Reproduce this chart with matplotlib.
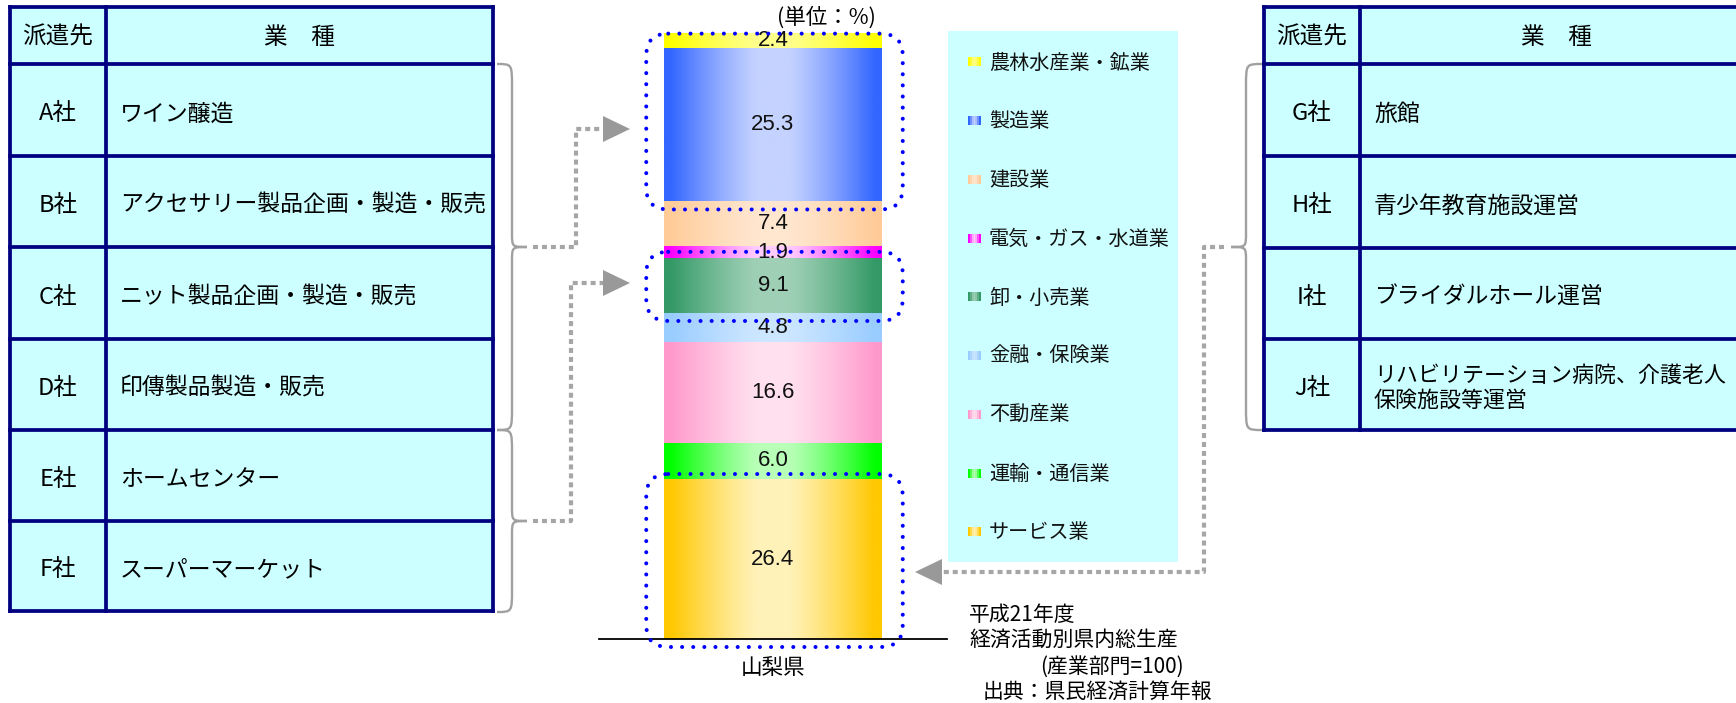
import numpy as np
import matplotlib
matplotlib.use('Agg')
import matplotlib.pyplot as plt
from matplotlib.patches import Rectangle, FancyBboxPatch, Polygon, PathPatch
from matplotlib.path import Path
from matplotlib.colors import to_rgb

plt.rcParams['font.family'] = ['Noto Sans CJK JP', 'DejaVu Sans']

# ---------------- data ----------------
industries = ['サービス業', '運輸・通信業', '不動産業', '金融・保険業', '卸・小売業',
              '電気・ガス・水道業', '建設業', '製造業', '農林水産業・鉱業']
shares = [26.4, 6.0, 16.6, 4.8, 9.1, 1.9, 7.4, 25.3, 2.4]
edge_colors = ['#FFC800', '#00FF00', '#FF99CC', '#99CCFF', '#339966',
               '#FF00FF', '#FFCC99', '#3366FF', '#FFFF00']
center_colors = ['#FFF2B8', '#B8FFB8', '#FFE0EE', '#CCE6FF', '#9FD0B6',
                 '#FFCCFF', '#FFE6CF', '#C4D2FF', '#FFFF8C']
region = ['山梨県']

header = ['派遣先', '業　種']
left_companies = ['A社', 'B社', 'C社', 'D社', 'E社', 'F社']
left_business = ['ワイン醸造', 'アクセサリー製品企画・製造・販売', 'ニット製品企画・製造・販売',
                 '印傳製品製造・販売', 'ホームセンター', 'スーパーマーケット']
right_companies = ['G社', 'H社', 'I社', 'J社']
right_business = ['旅館', '青少年教育施設運営', 'ブライダルホール運営',
                  'リハビリテーション病院、介護老人\n保険施設等運営']

unit_label = '(単位：%)'
note_lines = ['平成21年度', '経済活動別県内総生産', '(産業部門=100)', '出典：県民経済計算年報']

# ---------------- figure ----------------
W, H = 1736, 703
fig = plt.figure(figsize=(W / 100, H / 100), dpi=100)
fig.patch.set_facecolor('white')


def gradient(edge, center, n=64):
    e = np.array(to_rgb(edge))
    c = np.array(to_rgb(center))
    t = np.abs(np.linspace(-1, 1, n))
    w = np.clip((t - 0.15) / 0.8, 0, 1) ** 1.2
    img = c[None, :] * (1 - w[:, None]) + e[None, :] * w[:, None]
    return img[None, :, :]


# bar axes
bx = fig.add_axes([599 / W, (H - 639) / H, 348 / W, 606 / H], zorder=1)
bx.patch.set_alpha(0)
bottoms = np.concatenate([[0], np.cumsum(shares)[:-1]])
for i, (v, b) in enumerate(zip(shares, bottoms)):
    cont = bx.bar(0, v, width=1.0, bottom=b, color=edge_colors[i], linewidth=0, zorder=1)
    p = cont.patches[0]
    bx.imshow(gradient(edge_colors[i], center_colors[i]),
              extent=(p.get_x(), p.get_x() + p.get_width(), p.get_y(), p.get_y() + p.get_height()),
              aspect='auto', interpolation='bilinear', zorder=2)
    labs = bx.bar_label(cont, labels=[f'{v:.1f}'], label_type='center',
                        fontsize=16, family=['Liberation Sans'], color='#111111')
    for t in labs:
        t.set_zorder(4)
bx.set_xlim(-0.8, 0.8)
bx.set_ylim(0, 100)
for s in ['top', 'left', 'right']:
    bx.spines[s].set_visible(False)
bx.spines['bottom'].set_linewidth(1.3)
bx.spines['bottom'].set_color('black')
bx.set_yticks([])
bx.set_xticks([0])
bx.set_xticklabels(region, fontsize=15.5)
bx.tick_params(axis='x', length=0, pad=13)

# overlay axes in pixel coordinates
ov = fig.add_axes([0, 0, 1, 1], zorder=3)
ov.set_xlim(0, W)
ov.set_ylim(H, 0)
ov.axis('off')
ov.patch.set_alpha(0)

NAVY = '#000080'
CYAN = '#CCFFFF'


def draw_table(x0, xc, x1, ys, companies, business):
    ov.add_patch(Rectangle((x0, ys[0]), x1 - x0, ys[-1] - ys[0], fc=CYAN, ec='none', zorder=1))
    for y in ys:
        ov.plot([x0, x1], [y, y], color=NAVY, lw=2.7, solid_capstyle='projecting', zorder=2)
    for x in (x0, xc, x1):
        ov.plot([x, x], [ys[0], ys[-1]], color=NAVY, lw=2.7, solid_capstyle='projecting', zorder=2)
    ov.text((x0 + xc) / 2, (ys[0] + ys[1]) / 2 + 2, header[0], fontsize=17, ha='center', va='center', zorder=3)
    ov.text((xc + x1) / 2, (ys[0] + ys[1]) / 2 + 2, header[1], fontsize=17, ha='center', va='center', zorder=3)
    for i, (c, bz) in enumerate(zip(companies, business)):
        yc = (ys[i + 1] + ys[i + 2]) / 2 + 4
        ov.text((x0 + xc) / 2, yc, c, fontsize=17, ha='center', va='center', zorder=3)
        fs = 16.5 if '\n' not in bz else 15.8
        ov.text(xc + 14, yc, bz, fontsize=fs, ha='left', va='center', zorder=3, linespacing=1.2)


draw_table(10, 106, 493, [7, 64, 156, 247, 339, 430, 521, 611], left_companies, left_business)
draw_table(1264, 1360, 1752, [7, 64, 156, 248, 339, 430], right_companies, right_business)

GRAY = '#A0A0A0'


def brace(xe, xm, xt, y0, y1, r1=23, r2=14):
    yc = (y0 + y1) / 2
    verts = [(xe, y0), (xm, y0), (xm, y0), (xm, y0 + r1),
             (xm, yc - r2),
             (xm, yc), (xm, yc), (xt, yc),
             (xm, yc), (xm, yc), (xm, yc + r2),
             (xm, y1 - r1),
             (xm, y1), (xm, y1), (xe, y1)]
    codes = [Path.MOVETO] + [Path.CURVE4] * 3 + [Path.LINETO] + [Path.CURVE4] * 6 + \
            [Path.LINETO] + [Path.CURVE4] * 3
    ov.add_patch(PathPatch(Path(verts, codes), fill=False, ec=GRAY, lw=1.7, zorder=2))


brace(497, 512, 527, 64, 430)
brace(497, 512, 527, 430, 612)
brace(1262, 1246, 1231, 64, 430)

CONN = '#A6A6A6'


def connector(xs, ys, tip_dir):
    ov.plot(xs, ys, color=CONN, lw=3.0, linestyle=(0, (1.2, 0.95)),
            dash_capstyle='butt', solid_joinstyle='miter', zorder=2)
    x, y = xs[-1], ys[-1]
    ov.add_patch(Polygon([(x, y - 13), (x, y + 13), (x + 27 * tip_dir, y)],
                         closed=True, fc='#999999', ec='none', zorder=2))


connector([533, 576, 576, 603], [247, 247, 129, 129], 1)
connector([533, 571, 571, 603], [521, 521, 283, 283], 1)
connector([1224, 1204, 1204, 942], [247, 247, 572, 572], -1)

# legend
ov.add_patch(Rectangle((948, 31), 230, 531, fc=CYAN, ec='none', zorder=1))
for k, i in enumerate(range(len(industries) - 1, -1, -1)):
    y = 62 + k * 58.75
    ov.imshow(gradient(edge_colors[i], center_colors[i], n=7), extent=(968, 981, y + 4.5, y - 4.5),
              aspect='auto', interpolation='nearest', zorder=2)
    ov.text(989, y + 1, industries[i], fontsize=14.5, ha='left', va='center', zorder=3, color='#111111')
ov.set_xlim(0, W)
ov.set_ylim(H, 0)


# dotted rounded boxes around highlighted segments
def bar_to_px(x, y):
    return ov.transData.inverted().transform(bx.transData.transform((x, y)))


def seg_box(i0, i1, pad_top, pad_bot):
    top = bottoms[i1] + shares[i1]
    bot = bottoms[i0]
    xl = bar_to_px(-0.5, 0)[0] - 18
    xr = bar_to_px(0.5, 0)[0] + 21
    yt = bar_to_px(0, top)[1] - pad_top
    yb = bar_to_px(0, bot)[1] + pad_bot
    p = FancyBboxPatch((xl, yt), xr - xl, yb - yt, boxstyle='round,pad=0,rounding_size=22',
                       fill=False, ec='#0000FF', lw=2.9, linestyle=(0, (0.01, 2.75)), zorder=5)
    p.set_capstyle('round')
    ov.add_patch(p)


seg_box(7, 8, 0, 8)
seg_box(4, 4, 6, 8)
seg_box(0, 0, 5, 8)

# texts
ov.text(826, 18, unit_label, fontsize=15.5, ha='center', va='center', zorder=3)
ov.text(969, 615, note_lines[0], fontsize=15, ha='left', va='center')
ov.text(969, 640, note_lines[1], fontsize=15, ha='left', va='center')
ov.text(1040, 667, note_lines[2], fontsize=15, ha='left', va='center')
ov.text(983, 692, note_lines[3], fontsize=15, ha='left', va='center')

fig.savefig('out.png', dpi=100, facecolor='white')
